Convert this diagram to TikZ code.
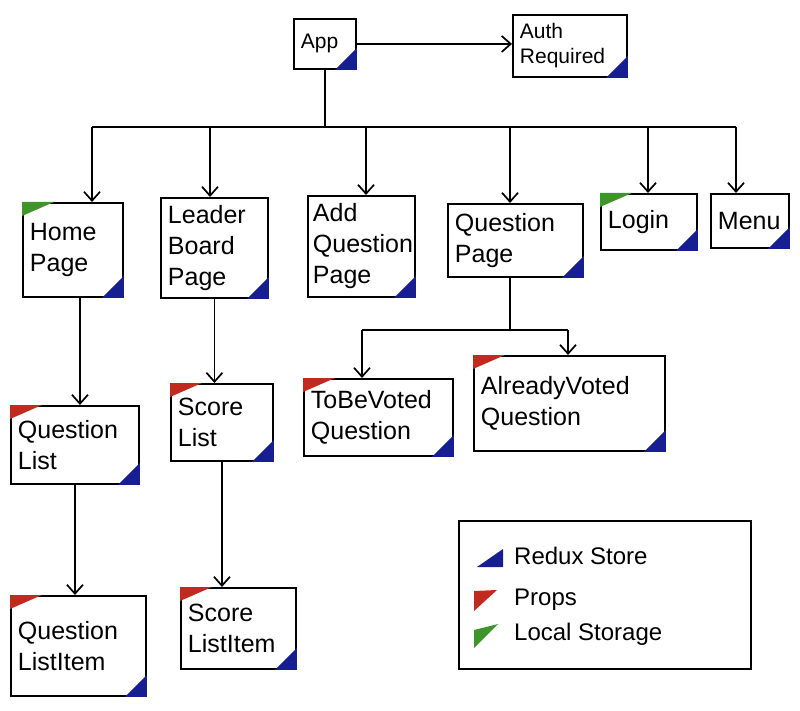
\documentclass[tikz,border=0pt]{standalone}
\usepackage{fontspec}
\setmainfont{Liberation Sans}
\usetikzlibrary{arrows.meta}
\definecolor{storeblue}{RGB}{22,30,145}
\definecolor{propsred}{RGB}{195,42,30}
\definecolor{localgreen}{RGB}{62,150,42}
\tikzset{
  box/.style={draw, line width=1.9pt, anchor=north west, align=left, inner xsep=7pt, inner ysep=4pt,
    font=\fontsize{25}{31}\selectfont},
  smallbox/.style={box, font=\fontsize{21}{25}\selectfont},
  arr/.style={-{Straight Barb[length=9pt,width=16pt]}, line width=1.7pt},
  wire/.style={line width=1.7pt},
  store/.style={fill=storeblue},
  props/.style={fill=propsred},
  local/.style={fill=localgreen},
  lgtext/.style={anchor=west, inner sep=0pt, font=\fontsize{24}{30}\selectfont}}

\begin{document}
\begin{tikzpicture}[x=1pt, y=-1pt]
  \useasboundingbox (0,0) rectangle (800,711);
  % top row
  \node[smallbox, text width=48pt, minimum height=50pt] (app) at (293,18) {App};
  \node[smallbox, text width=100pt, minimum height=62pt] (auth) at (512,14) {Auth\\Required};
  % pages
  \node[box, text width=86pt, minimum height=94pt] (home) at (22,202) {Home\\Page};
  \node[box, text width=93pt, minimum height=100pt] (leader) at (160,197) {Leader\\Board\\Page};
  \node[box, text width=97pt, minimum height=101pt, inner xsep=5pt] (add) at (307,195) {Add\\Question\\Page};
  \node[box, text width=121pt, minimum height=73pt] (qpage) at (447,203) {Question\\Page};
  \node[box, text width=82pt, minimum height=56pt] (login) at (600,193) {Login};
  \node[box, text width=64pt, minimum height=54pt] (menu) at (710,193) {Menu};
  % lists and questions
  \node[box, text width=114pt, minimum height=78pt] (qlist) at (10,405) {Question\\List};
  \node[box, text width=88pt, minimum height=77pt] (slist) at (170,383) {Score\\List};
  \node[box, text width=135pt, minimum height=77pt] (tobe) at (303,378) {ToBeVoted\\Question};
  \node[box, text width=177pt, minimum height=95pt] (already) at (473,355) {AlreadyVoted\\Question};
  \node[box, text width=121pt, minimum height=100pt] (qitem) at (10,595) {Question\\ListItem};
  \node[box, text width=101pt, minimum height=81pt] (sitem) at (180,587) {Score\\ListItem};

  % corner marks
  \foreach \n in {app,auth,home,leader,add,qpage,login,menu,qlist,slist,tobe,already,qitem,sitem}
    \fill[store] (\n.south east) -- ++(-22,0) -- ++(22,-22) -- cycle;
  \foreach \n in {qlist,slist,tobe,already,qitem,sitem}
    \fill[props] (\n.north west) -- ++(32,0) -- ++(-32,14) -- cycle;
  \foreach \n in {home,login}
    \fill[local] (\n.north west) -- ++(32,0) -- ++(-32,14) -- cycle;

  % connectors
  \draw[arr] (app.east) -- (auth.west |- app.east);
  \coordinate (busL) at (92,127);
  \coordinate (busR) at (736,127);
  \draw[wire] (app.south) -- (app.south |- busL);
  \draw[wire] (busL) -- (busR);
  \foreach \n/\x in {home/92,leader/210,add/366,qpage/510,login/648,menu/736} {
    \coordinate (b-\n) at (\x,127);
    \draw[arr] (b-\n) -- (b-\n |- \n.north);
  }
  \coordinate (qfork) at (510,330);
  \coordinate (qforkL) at (362,330);
  \coordinate (qforkR) at (568,330);
  \draw[wire] (qpage.south -| qfork) -- (qfork);
  \draw[wire] (qforkL) -- (qforkR);
  \draw[arr] (qforkL) -- (qforkL |- tobe.north);
  \draw[arr] (qforkR) -- (qforkR |- already.north);
  \draw[arr] ([xshift=7pt]home.south) -- ([xshift=7pt]home.south |- qlist.north);
  \draw[arr] (leader.south) -- (leader.south |- slist.north);
  \draw[arr] (qlist.south) -- (qlist.south |- qitem.north);
  \draw[arr] (slist.south) -- (slist.south |- sitem.north);

  % legend
  \node[draw, line width=1.9pt, anchor=north west, minimum width=292pt, minimum height=148pt] (legend) at (458,520) {};
  \node[lgtext] (lg-store) at (514,556) {Redux Store};
  \node[lgtext] (lg-props) at (514,600) {Props};
  \node[lgtext] (lg-local) at (514,634) {Local Storage};
  \fill[store] ([shift={(-37,11)}]lg-store.west) -- ++(26,0) -- ++(0,-18) -- cycle;
  \fill[props] ([shift={(-40,-9)}]lg-props.west) -- ++(23,-1) -- ++(-23,21) -- cycle;
  \fill[local] ([shift={(-40,-4)}]lg-local.west) -- ++(24,-6) -- ++(-24,24) -- cycle;
\end{tikzpicture}
\end{document}
